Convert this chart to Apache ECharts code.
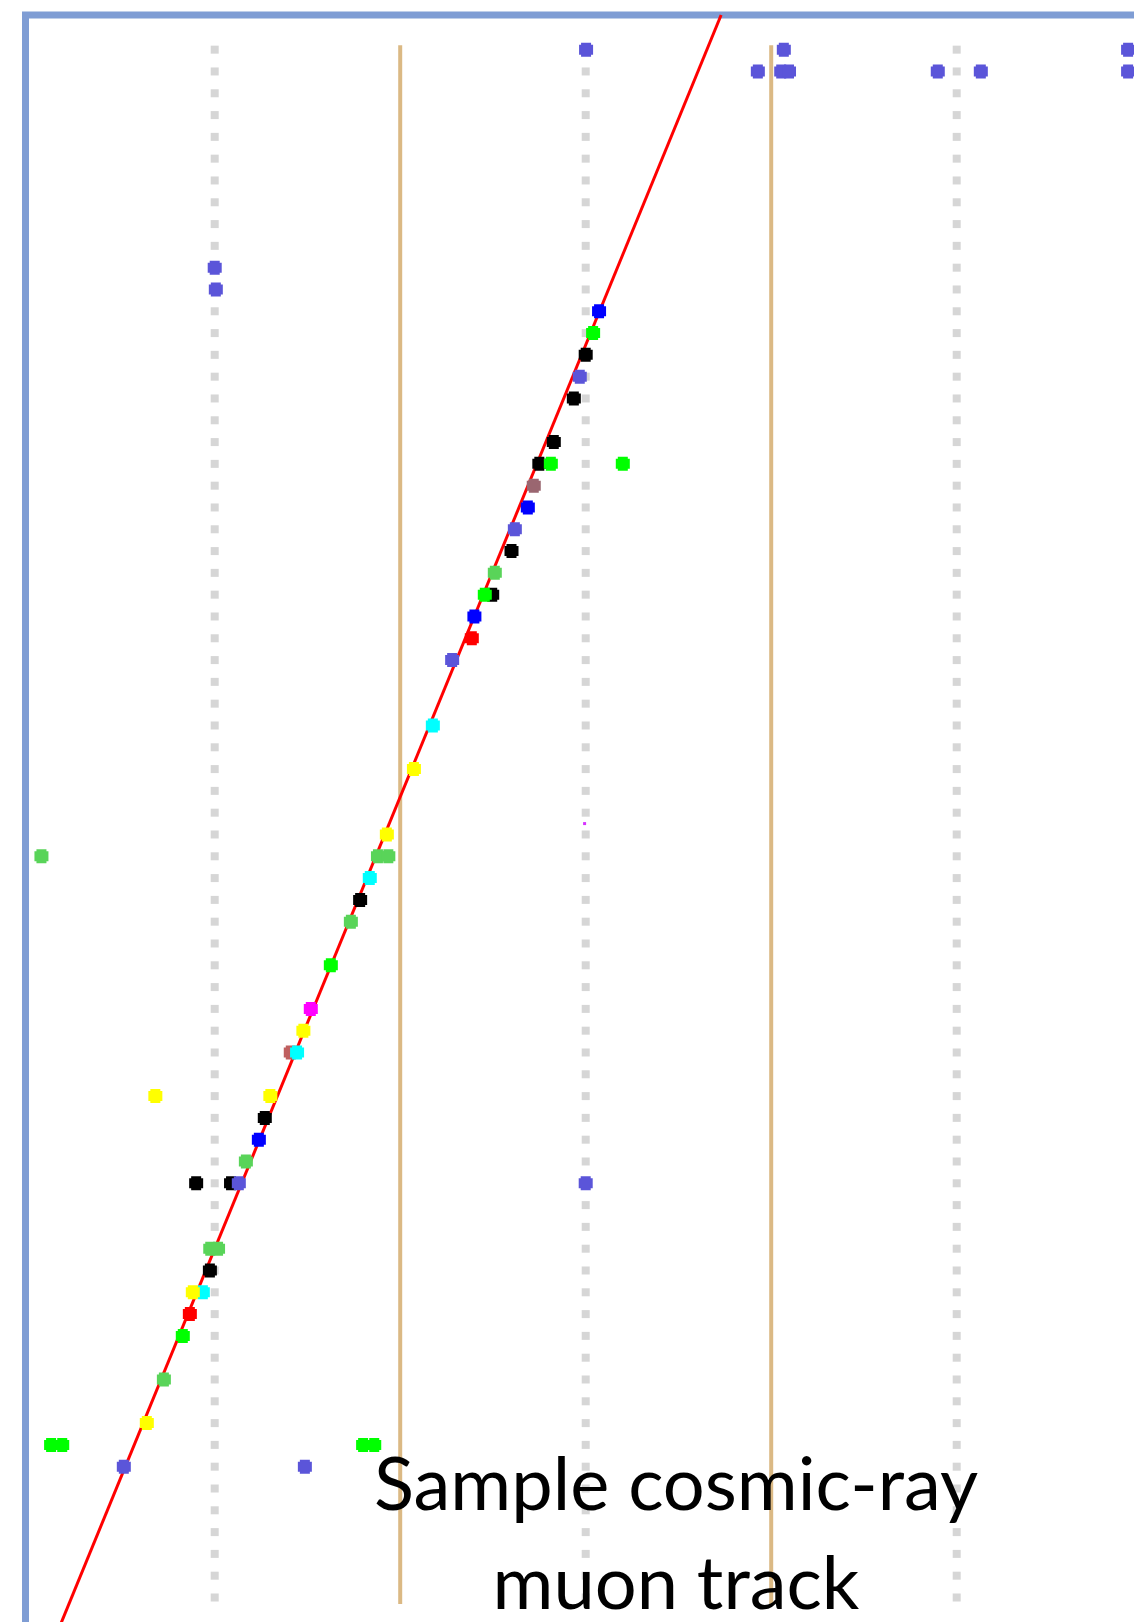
<!DOCTYPE html>
<html>
<head>
<meta charset="utf-8">
<script src="https://cdn.jsdelivr.net/npm/echarts@6/dist/echarts.min.js"></script>
<style>
html,body{margin:0;padding:0;background:#fff;}
#chart{width:1134px;height:1622px;}
</style>
</head>
<body>
<div id="chart"></div>
<script>
// ---- data (x: wire-cell units, row: detector layer, 0 = top) ----
const wireColumns = [1, 2, 3];
const layers = [0,1,2,3,4,5,6,7,8,9,10,11,12,13,14,15,16,17,18,19,20,21,22,23,24,25,26,27,28,29,30,31,32,33,34,35,
  36,37,38,39,40,41,42,43,44,45,46,47,48,49,50,51,52,53,54,55,56,57,58,59,60,61,62,63,64,65,66,67,68,69,70,71];
const cellBoundaries = [1.5, 2.5];
const boundarySpan = [-0.2, 71.3];

const trackX = [2.365, 0.566];
const trackRow = [-1.59, 73];

const blackHits = [[2.0,14],[1.968,16],[1.914,18],[1.875,19],[1.8,23],[1.748,25],[1.392,39],[1.135,49],[0.95,52],[1.044,52],[0.987,56]];
const slateBlueHits = [[2.001,0],[2.534,0],[3.462,0],[2.464,1],[2.527,1],[2.548,1],[2.949,1],[3.065,1],[3.462,1],
  [1.0,10],[1.003,11],[1.984,15],[1.809,22],[1.64,28],[1.065,52],[2.0,52],[0.755,65],[1.243,65]];
const blueHits = [[2.036,12],[1.844,21],[1.70,26],[1.119,50]];
const greenHits = [[2.02,13],[1.906,19],[2.1,19],[1.728,25],[1.313,42],[0.914,59],[0.559,64],[0.589,64],[1.40,64],[1.43,64]];
const lightGreenHits = [[1.755,24],[0.533,37],[1.44,37],[1.468,37],[1.367,40],[1.084,51],[0.988,55],[1.009,55],[0.863,61]];
const mauveHits = [[1.86,20]];
const brownRedHits = [[1.205,46]];
const redHits = [[1.693,27],[0.933,58]];
const cyanHits = [[1.588,31],[1.418,38],[1.222,46],[0.968,57]];
const yellowHits = [[1.537,33],[1.464,36],[1.239,45],[0.84,48],[1.15,48],[0.941,57],[0.817,63]];
const magentaHits = [[1.259,44]];
const magentaSpeck = [[1.997,35.5]];

const titleLines = ['Sample cosmic-ray', 'muon track'];

// ---- build ----
const wireDots = [];
wireColumns.forEach(c => layers.forEach(r => wireDots.push([c, r])));

const blob = 'path://M2 0H12V2H14V12H12V14H2V12H0V2H2Z';
function hitSeries(data, color, size) {
  return {
    type: 'scatter', data: data, symbol: blob, symbolSize: size || 14,
    itemStyle: { color: color, opacity: 1 }, z: 5, silent: true
  };
}

const series = [
  {
    type: 'scatter', data: wireDots, symbol: 'rect', symbolSize: [8, 8],
    itemStyle: { color: '#cccccc' }, z: 1, silent: true
  }
];
cellBoundaries.forEach(b => {
  series.push({
    type: 'line', data: [[b, boundarySpan[0]], [b, boundarySpan[1]]], showSymbol: false,
    lineStyle: { color: '#dbb984', width: 4 }, z: 2, silent: true
  });
});
series.push({
  type: 'line', data: [[trackX[0], trackRow[0]], [trackX[1], trackRow[1]]], showSymbol: false,
  lineStyle: { color: '#ff0000', width: 3 }, z: 3, silent: true
});
series.push(hitSeries(blackHits, '#000000'));
series.push(hitSeries(slateBlueHits, '#5b55d9'));
series.push(hitSeries(blueHits, '#0000ff'));
series.push(hitSeries(greenHits, '#00ff00'));
series.push(hitSeries(lightGreenHits, '#59d459'));
series.push(hitSeries(mauveHits, '#9a6670'));
series.push(hitSeries(brownRedHits, '#bf5f5f'));
series.push(hitSeries(redHits, '#ff0000'));
series.push(hitSeries(cyanHits, '#00ffff'));
series.push(hitSeries(yellowHits, '#ffff00'));
series.push(hitSeries(magentaHits, '#ff00ff'));
series.push({
  type: 'scatter', data: magentaSpeck, symbol: 'rect', symbolSize: 3,
  itemStyle: { color: '#cc00ff' }, z: 5, silent: true
});

const chart = echarts.init(document.getElementById('chart'), null, { renderer: 'canvas' });
chart.setOption({
  animation: false,
  backgroundColor: '#ffffff',
  grid: {
    left: 25.5, top: 15, width: 1116.7, height: 1647.9,
    outerBoundsMode: 'none', containLabel: false,
    show: true, borderColor: '#7f9dd4', borderWidth: 7, backgroundColor: 'transparent'
  },
  xAxis: {
    type: 'value', min: 0.49, max: 3.5, show: false,
    splitLine: { show: false }
  },
  yAxis: {
    type: 'value', min: -1.59, max: 74, inverse: true, show: false,
    splitLine: { show: false }
  },
  series: series,
  graphic: [
    {
      type: 'text', x: 676, y: 1486, z: 100,
      style: { text: titleLines[0], fill: '#000', font: '74px Lato', align: 'center', verticalAlign: 'middle' }
    },
    {
      type: 'text', x: 676, y: 1585, z: 100,
      style: { text: titleLines[1], fill: '#000', font: '74px Lato', align: 'center', verticalAlign: 'middle' }
    }
  ]
});
</script>
</body>
</html>
